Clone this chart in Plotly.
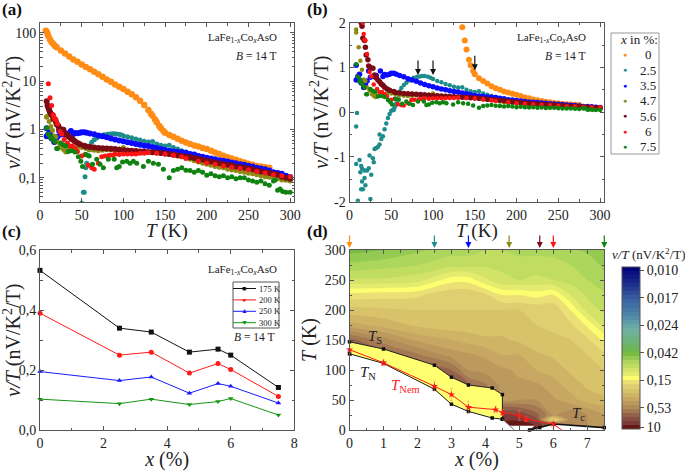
import plotly.graph_objects as go

W, H = 685, 471
SERIF = "Liberation Serif"
INK = "#222222"
AXIS = "#555555"

# ---------- panels (a), (b): v/T against T, one pair of lists per Co content ----------
t_0 = [7,8,9,10,12,14,16,18,20,25,30,35,40,45,50,55,60,65,70,75,80,85,90,95,100,105,110,115,120,125,130,133,135,138,140,143,145,148,150,155,160,165,170,175,180,185,190,195,200,205,210,215,220,225,230,235,240,245,250,255,260,265,270,275]
v_0 = [110,105,95,85,72,63,58,53,50,43,37,32,28,25,22,19.5,17.5,15.5,13.8,12.2,10.8,9.6,8.5,7.6,6.8,6.0,5.3,4.6,3.9,3.2,2.5,2.1,1.9,1.6,1.4,1.17,1.05,0.92,0.85,0.76,0.70,0.64,0.58,0.535,0.50,0.465,0.44,0.41,0.39,0.36,0.33,0.31,0.285,0.265,0.25,0.235,0.22,0.205,0.195,0.185,0.175,0.17,0.165,0.16]

t_25 = [8,9,8,12,14,13,15,18,21,23,18,15,14,16,19,10,25,26,29,28,24,30,32,34,36,36,38,40,42,44,46,48,50,52,53,54,55,56,57,59,60,62,65,68,71,74,77,81,84,87,90,94,97,100,105,110,115,120,125,130,135,140,145,150,155,160,165,170,175,180,185,190,195,200,205,210,215,220,225,230,235,240,250,260,270,280,290,300]
v_25 = [-0.32,-0.02,-1.16,-1.07,-1.2,-1.34,-1.26,-1.3,-1.3,-1.25,-1.47,-1.55,-1.72,-1.72,-1.63,-1.98,-1.94,-1.4,-1.12,-1.03,-0.97,-0.82,-0.8,-0.78,-0.72,-0.5,-0.6,-0.54,-0.38,-0.25,-0.13,-0.04,0.03,0.05,0.05,0.105,0.16,0.2,0.29,0.38,0.46,0.54,0.61,0.66,0.71,0.74,0.77,0.79,0.8,0.81,0.81,0.79,0.77,0.74,0.7,0.67,0.63,0.6,0.57,0.55,0.56,0.5,0.47,0.45,0.47,0.42,0.39,0.36,0.34,0.31,0.29,0.27,0.26,0.25,0.24,0.225,0.21,0.2,0.19,0.18,0.175,0.17,0.165,0.15,0.13,0.12,0.11,0.09]

t_35 = [8,8,10,12,12,14,17,18,19,21,23,25,29,32,37,40,42,45,48,50,53,56,60,65,70,75,80,85,90,95,100,105,110,115,120,125,130,135,140,145,150,155,160,165,170,175,180,185,190,195,200,205,210,215,220,225,230,235,240,245,250,255,260,265,270,275,280,285,290,295,300]
v_35 = [0.72,1.05,0.8,0.85,0.72,0.65,0.55,0.57,0.62,0.7,0.92,0.78,0.8,0.82,0.92,0.8,0.84,0.83,0.85,0.87,0.87,0.85,0.82,0.79,0.75,0.72,0.69,0.65,0.62,0.59,0.57,0.54,0.52,0.5,0.48,0.46,0.45,0.43,0.41,0.39,0.375,0.36,0.35,0.34,0.335,0.327,0.31,0.3,0.28,0.27,0.26,0.25,0.24,0.23,0.225,0.215,0.205,0.2,0.19,0.185,0.177,0.17,0.16,0.155,0.15,0.14,0.13,0.125,0.12,0.11,0.103]

t_47 = [8,8,11,13,15,17,19,21,24,27,29,31,34,37,41,45,50,55,60,65,70,75,80,85,90,95,100,105,110,115,120,125,130,135,140,145,150,155,160,165,170,175,180,185,190,195,200,205,210,215,220,225,230,235,240,245,250,255,260,265,270,275,280,285,290,295,300]
v_47 = [1.85,1.78,1.45,1.15,0.95,0.73,0.7,0.55,0.48,0.4,0.37,0.34,0.37,0.4,0.38,0.42,0.42,0.4,0.38,0.37,0.36,0.37,0.38,0.375,0.37,0.39,0.42,0.37,0.35,0.35,0.35,0.345,0.34,0.335,0.33,0.32,0.31,0.3,0.29,0.28,0.27,0.26,0.24,0.225,0.21,0.2,0.19,0.18,0.17,0.165,0.16,0.15,0.145,0.14,0.135,0.13,0.123,0.12,0.115,0.11,0.105,0.102,0.1,0.095,0.09,0.088,0.085]

t_56 = [8,9,10,11,12,13,14,15,16,18,19,20,22,23,25,28,30,32,34,36,38,40,42,45,48,53,55,60,65,70,75,80,85,90,95,100,105,110,115,120,125,130,135,140,145,150,155,160,165,170,175,180,185,190,195,200,205,210,215,220,225,230,235,240,245,250,255,260,265,270,275,280,285,290,295,300]
v_56 = [3.8,3.1,2.8,2.5,2.25,2.1,2.0,1.92,1.65,1.6,1.45,1.28,1.17,1.03,1.0,0.98,0.83,0.77,0.72,0.68,0.63,0.6,0.56,0.52,0.49,0.46,0.44,0.43,0.42,0.41,0.405,0.4,0.395,0.39,0.38,0.37,0.365,0.36,0.355,0.35,0.345,0.34,0.335,0.33,0.325,0.315,0.31,0.3,0.29,0.28,0.27,0.265,0.255,0.245,0.235,0.222,0.215,0.205,0.2,0.19,0.185,0.18,0.17,0.165,0.16,0.155,0.15,0.14,0.135,0.13,0.125,0.12,0.115,0.105,0.1,0.095]

t_6 = [10,12,14,16,17,18,19,21,24,26,29,33,36,39,42,45,50,54,58,62,65,70,74,78,83,87,90,95,100,105,110,115,120,125,130,140,150,160,170,175,190,200,210,220,230,240,250,260,270,280,290,300]
v_6 = [8.8,4.5,3.1,2.0,1.75,1.62,1.6,1.3,0.9,0.8,0.62,0.52,0.45,0.45,0.4,0.35,0.28,0.3,0.18,0.16,0.15,0.2,0.27,0.28,0.29,0.29,0.31,0.3,0.31,0.31,0.31,0.31,0.32,0.32,0.33,0.32,0.31,0.29,0.27,0.25,0.22,0.202,0.19,0.175,0.165,0.155,0.146,0.135,0.125,0.115,0.11,0.105]

t_75 = [8,10,12,13,14,16,18,20,21,25,28,31,34,38,42,46,49,51,55,59,63,68,72,76,82,89,92,95,99,104,108,112,116,124,130,136,142,148,155,160,165,170,175,180,185,190,195,200,205,210,215,220,225,230,235,240,245,250,255,260,265,270,275,280,282,285,288,291,295,300]
v_75 = [1.07,0.79,0.68,0.72,0.66,0.6,0.55,0.4,0.4,0.52,0.48,0.45,0.35,0.36,0.34,0.27,0.22,0.17,0.3,0.28,0.19,0.24,0.19,0.16,0.24,0.24,0.16,0.17,0.21,0.22,0.2,0.22,0.2,0.17,0.22,0.2,0.19,0.15,0.1,0.14,0.15,0.16,0.142,0.14,0.13,0.14,0.13,0.112,0.12,0.11,0.105,0.11,0.1,0.105,0.095,0.1,0.1,0.09,0.085,0.08,0.085,0.075,0.07,0.085,0.09,0.055,0.058,0.052,0.05,0.05]

series = [
    ("0", t_0, v_0, "#ff8c14", 6.5),
    ("2.5", t_25, v_25, "#1f8c8c", 5),
    ("3.5", t_35, v_35, "#0a0aff", 6),
    ("4.7", t_47, v_47, "#8c8c14", 5),
    ("5.6", t_56, v_56, "#7a0a14", 6),
    ("6", t_6, v_6, "#ff1414", 5),
    ("7.5", t_75, v_75, "#0f820f", 5),
]
arrow_T = [82, 100, 150]
arrow_v = [0.83, 0.83, 0.94]

# ---------- panel (c) ----------
x_pct = [0, 2.5, 3.5, 4.7, 5.6, 6, 7.5]
c_175 = [0.533, 0.34, 0.327, 0.26, 0.27, 0.25, 0.142]
c_200 = [0.39, 0.25, 0.26, 0.19, 0.222, 0.202, 0.112]
c_250 = [0.195, 0.165, 0.177, 0.123, 0.155, 0.146, 0.09]
c_300 = [0.103, 0.088, 0.103, 0.085, 0.095, 0.105, 0.05]
c_series = [
    ("175 K", c_175, "#111111", "square", "■"),
    ("200 K", c_200, "#ff1a1a", "circle", "●"),
    ("250 K", c_250, "#1a1aff", "triangle-up", "▲"),
    ("300 K", c_300, "#149614", "triangle-down", "▼"),
]

# ---------- panel (d): colour-bar position of v/T on a (x, T) grid ----------
grid_x = [0, 1, 2, 3, 3.5, 4, 4.5, 5, 5.5, 6, 6.5, 7, 7.5]
grid_T = [0, 10, 17, 25, 50, 75, 100, 125, 150, 175, 200, 225, 250, 275, 300]
grid_u = [
    [.00,.00,.00,.00,.00,.00,.00,.01,.02,.08,.12,.14,.15],
    [.00,.00,.00,.00,.00,.00,.01,.01,.03,.10,.13,.15,.16],
    [.05,.05,.05,.05,.05,.05,.03,.03,.06,.30,.13,.15,.16],
    [.05,.05,.05,.05,.05,.05,.04,.05,.09,.15,.13,.15,.17],
    [.08,.08,.08,.08,.12,.15,.15,.15,.15,.17,.19,.21,.22],
    [.08,.08,.08,.08,.10,.12,.16,.17,.17,.19,.21,.23,.24],
    [.08,.08,.08,.10,.15,.16,.17,.18,.20,.21,.23,.24,.25],
    [.09,.08,.12,.16,.17,.18,.20,.20,.22,.23,.24,.25,.27],
    [.09,.14,.18,.20,.21,.22,.22,.23,.24,.245,.25,.27,.305],
    [.19,.21,.23,.24,.24,.24,.24,.245,.25,.255,.27,.305,.36],
    [.24,.245,.25,.25,.25,.25,.25,.25,.255,.255,.30,.36,.38],
    [.29,.285,.28,.255,.255,.27,.30,.30,.31,.30,.35,.38,.395],
    [.37,.37,.36,.31,.31,.345,.37,.375,.37,.375,.385,.40,.42],
    [.42,.41,.40,.385,.385,.38,.38,.385,.385,.39,.40,.41,.43],
    [.46,.45,.43,.41,.41,.40,.40,.41,.41,.41,.42,.43,.44],
]
bar_pos = [0.01, 0.13, 0.30, 0.47, 0.64, 0.81, 0.98]
bar_text = ["10", "0,53", "0,15", "0,042", "0,024", "0,017", "0,010"]
bar_colors = [
    [0.00, "#5a0000"], [0.03, "#7a3535"], [0.08, "#8f5a48"], [0.13, "#ae8858"],
    [0.20, "#ccae64"], [0.25, "#dcc86c"], [0.285, "#e8dc76"], [0.31, "#ffff70"], [0.335, "#e6ec70"], [0.36, "#d4e468"],
    [0.42, "#a8d45a"], [0.47, "#6fb83f"], [0.52, "#6cb46a"], [0.62, "#70b0a8"],
    [0.70, "#4f88a8"], [0.80, "#3a60a0"], [0.90, "#1a2a8a"], [1.00, "#00007a"],
]

ts_x = [0, 1, 2.5, 3, 3.5, 4.2, 4.5]
ts_T = [147, 135, 108, 88, 75, 70, 59]
tn_x = [0, 1, 2.5, 3, 3.5, 4.2, 4.5]
tn_T = [127, 111, 68, 43, 31, 20, 18]
tn_end_x = [4.5, 4.85]
tn_end_T = [18, 0]
tc_x = [5.3, 5.6, 6, 7.5]
tc_T = [0, 4, 10, 4]
gap_x = [4.65, 5.45, 5.3, 4.85]
gap_T = [7, 7, 0, 0]
nem_x = [0, 1, 2.5, 3, 3.5, 4.3, 4.5, 5, 5.2, 6]
nem_T = [134, 112, 73, 59, 38, 34, 29, 24, 18, 10]
nem_err = [5, 5, 8, 10, 10, 5, 5, 8, 4, 8]
nem_end_x = [6, 6.25]
nem_end_T = [10, 0]
top_x = [0, 2.5, 3.5, 4.7, 5.6, 6, 7.5]

# ---------- axis ticks ----------
ax_ticks_T = [0, 50, 100, 150, 200, 250, 300]
log_ticks = [0.1, 1, 10, 100]
log_text = ["0,1", "1", "10", "100"]
log_minor = [m * d for d in (0.01, 0.1, 1, 10, 100) for m in range(2, 10)]
lin_ticks = [-2, -1, 0, 1, 2]
lin_text = ["-2", "-1", "0", "1", "2"]
c_ticks = [0, 0.2, 0.4, 0.6]
c_text = ["0,0", "0,2", "0,4", "0,6"]
c_xticks = [0, 2, 4, 6, 8]
d_xticks = [0, 1, 2, 3, 4, 5, 6, 7]
d_yticks = [0, 50, 100, 150, 200, 250, 300]

fig = go.Figure()


def box(l, r, t, b):
    return dict(x=[l / W, r / W], y=[1 - b / H, 1 - t / H])


def axis(domain, rng, title, standoff, **kw):
    return dict(domain=domain, range=rng, showgrid=False, zeroline=False,
                showline=True, linecolor=AXIS, linewidth=1, mirror="allticks",
                ticks="inside", ticklen=4, tickcolor=AXIS, tickwidth=1,
                tickfont=dict(family=SERIF, size=14, color=INK),
                title=dict(text=title, font=dict(family=SERIF, size=20, color=INK),
                           standoff=standoff),
                automargin=False, **kw)


for name, t, v, col, sz in series:
    pos = [(a, b) for a, b in zip(t, v) if b > 0]
    fig.add_trace(go.Scatter(x=[p[0] for p in pos], y=[p[1] for p in pos], mode="markers",
                             marker=dict(size=sz, color=col), name=name, showlegend=False,
                             xaxis="x", yaxis="y"))
for name, t, v, col, sz in series:
    fig.add_trace(go.Scatter(x=t, y=v, mode="markers", marker=dict(size=sz - 0.5, color=col),
                             name=name, showlegend=False, xaxis="x2", yaxis="y2"))
for name, v, col, sym, _ in c_series:
    fig.add_trace(go.Scatter(x=x_pct, y=v, mode="lines+markers", name=name, showlegend=False,
                             line=dict(color=col, width=1), marker=dict(size=5, color=col, symbol=sym),
                             cliponaxis=False, xaxis="x3", yaxis="y3"))

fig.add_trace(go.Contour(
    x=grid_x, y=grid_T, z=grid_u, zmin=0, zmax=1, colorscale=bar_colors, autocontour=False,
    contours=dict(start=0, end=1, size=0.025, coloring="fill"), line=dict(width=0),
    xaxis="x4", yaxis="y4",
    colorbar=dict(x=622 / W, xanchor="left", y=(H - 429) / H, yanchor="bottom", len=162 / H,
                  lenmode="fraction", thickness=18, thicknessmode="pixels", xpad=0, ypad=0,
                  outlinecolor=AXIS, outlinewidth=1, ticks="outside", ticklen=4, tickcolor=AXIS,
                  tickvals=bar_pos, ticktext=bar_text,
                  tickfont=dict(family=SERIF, size=14, color=INK)),
))
# white (no data) regions and the yellow region, bounded by the transition lines
fig.add_trace(go.Scatter(x=tn_x + tn_end_x[1:] + [0], y=tn_T + tn_end_T[1:] + [0], fill="toself",
                         fillcolor="white", mode="none", showlegend=False, xaxis="x4", yaxis="y4"))
fig.add_trace(go.Scatter(x=tc_x + [7.5], y=tc_T + [0], fill="toself", fillcolor="white", mode="none",
                         showlegend=False, xaxis="x4", yaxis="y4"))
fig.add_trace(go.Scatter(x=gap_x, y=gap_T, fill="toself", fillcolor="white", mode="none",
                         showlegend=False, xaxis="x4", yaxis="y4"))
fig.add_trace(go.Scatter(x=ts_x + tn_x[::-1], y=ts_T + tn_T[::-1], fill="toself", fillcolor="#ffff70",
                         mode="none", showlegend=False, xaxis="x4", yaxis="y4"))
dot = dict(size=3.5, color="#111111", symbol="square")
fig.add_trace(go.Scatter(x=ts_x + tn_end_x[:1], y=ts_T + tn_end_T[:1], mode="lines+markers",
                         line=dict(color="#222222", width=1), marker=dot, showlegend=False,
                         cliponaxis=False, xaxis="x4", yaxis="y4"))
fig.add_trace(go.Scatter(x=tn_x, y=tn_T, mode="lines+markers", line=dict(color="#222222", width=1),
                         marker=dot, showlegend=False, cliponaxis=False, xaxis="x4", yaxis="y4"))
fig.add_trace(go.Scatter(x=tn_end_x, y=tn_end_T, mode="lines", line=dict(color="#777777", width=1),
                         showlegend=False, xaxis="x4", yaxis="y4"))
fig.add_trace(go.Scatter(x=tc_x, y=tc_T, mode="lines+markers", line=dict(color="#111111", width=1.6),
                         marker=dot, showlegend=False, cliponaxis=False, xaxis="x4", yaxis="y4"))
fig.add_trace(go.Scatter(x=nem_x, y=nem_T, mode="lines+markers", line=dict(color="#ff1a1a", width=1),
                         marker=dict(size=5.5, color="#ff1a1a", symbol="star"), showlegend=False,
                         error_y=dict(array=nem_err, color="rgba(255,120,120,0.45)", thickness=1, width=1.5),
                         cliponaxis=False, xaxis="x4", yaxis="y4"))
fig.add_trace(go.Scatter(x=nem_end_x, y=nem_end_T, mode="lines", line=dict(color="#ff1a1a", width=1),
                         showlegend=False, xaxis="x4", yaxis="y4"))

v_over_T = "<i>v/T</i> (nV/K<sup>2</sup>/T)"
T_K = "<i>T</i> (K)"
x_title = "<i>x</i> (%)"

notes = []


def note(px, py, text, size=12, color=INK, anchor="left", rot=0):
    notes.append(dict(xref="paper", yref="paper", x=px / W, y=1 - py / H, text=text, showarrow=False,
                      xanchor=anchor, yanchor="middle", textangle=rot,
                      font=dict(family=SERIF, size=size, color=color)))


def chem(px, py):
    note(px, py, "LaFe<sub>1-<i>x</i></sub>Co<sub><i>x</i></sub>AsO", 11, anchor="right")


def field(px, py):
    note(px, py, "<i>B</i> = 14 T", 11.5, anchor="right")


for label, px, py in [("(a)", 0, 10), ("(b)", 305, 10), ("(c)", 0, 231), ("(d)", 305, 231)]:
    note(px, py, "<b>" + label + "</b>", 17, "#111111")

note(167, 231, T_K, 19, anchor="center")
note(477, 231, T_K, 19, anchor="center")

chem(279, 38); field(278, 56)
chem(588, 38); field(587, 56)
chem(279, 270); field(276, 337)

# legend of (b)
note(618, 40, "<i>x</i> in %:", 13)
for i, (name, _, _, col, _) in enumerate(series):
    row = 55 + i * 15.3
    note(625, row, "●", 7, col, anchor="center")
    note(648, row, name, 13, anchor="center")

# legend of (c)
for i, (name, _, col, _, glyph) in enumerate(c_series):
    row = 288.5 + i * 11.4
    note(244, row, glyph, 7, col, anchor="center")
    note(257, row, name, 8.5)

note(610, 254, v_over_T, 13)

d_labels = [(0.75, 155, "<i>T</i><sub>S</sub>", INK), (0.55, 95, "<i>T</i><sub>N</sub>", INK),
            (1.65, 73, "<i>T</i><sub>Nem</sub>", "#ff1a1a"), (6.75, 27, "<i>T</i><sub>c</sub>", INK)]
for x, y, text, col in d_labels:
    notes.append(dict(xref="x4", yref="y4", x=x, y=y, text=text, showarrow=False,
                      font=dict(family=SERIF, size=15, color=col)))

for T, v in zip(arrow_T, arrow_v):
    notes.append(dict(xref="x2", yref="y2", x=T, y=v, text="", showarrow=True, ax=0, ay=-16,
                      arrowcolor="#111111", arrowhead=2, arrowsize=1, arrowwidth=1.2))
for x, (_, _, _, col, _) in zip(top_x, series):
    notes.append(dict(xref="x4", yref="paper", x=x, y=1 - 248 / H, text="", showarrow=True, ax=0, ay=-14,
                      arrowcolor=col, arrowhead=2, arrowsize=1, arrowwidth=1.2))

shapes = [
    dict(type="rect", xref="paper", yref="paper", x0=611 / W, x1=659 / W, y0=1 - 154 / H, y1=1 - 33 / H,
         line=dict(color="#999999", width=1), fillcolor="white"),
    dict(type="rect", xref="paper", yref="paper", x0=233 / W, x1=279 / W, y0=1 - 328 / H, y1=1 - 282 / H,
         line=dict(color="#555555", width=1), fillcolor="white", layer="below"),
]
for i, (_, _, col, _, _) in enumerate(c_series):
    row = 288.5 + i * 11.4
    shapes.append(dict(type="line", xref="paper", yref="paper", x0=233 / W, x1=256 / W,
                       y0=1 - row / H, y1=1 - row / H, line=dict(color=col, width=1)))

d_a = box(40, 294.3, 23, 202)
d_b = box(349.5, 604.3, 22.7, 201.7)
d_c = box(40, 294.3, 250.3, 430)
d_d = box(349.5, 604.3, 250, 430)

fig.update_layout(
    width=W, height=H, autosize=False, margin=dict(l=0, r=0, t=0, b=0),
    paper_bgcolor="white", plot_bgcolor="white", showlegend=False,
    annotations=notes, shapes=shapes,
    xaxis=axis(d_a["x"], [0, 305], "", 0, anchor="y", tickvals=ax_ticks_T,
               minor=dict(ticks="inside", dtick=25, ticklen=2.5, tickcolor=AXIS)),
    yaxis=axis(d_a["y"], [-1.503, 2.2], v_over_T, 6, anchor="x", type="log", tickvals=log_ticks, ticktext=log_text,
               minor=dict(ticks="inside", tickvals=log_minor, ticklen=2.5, tickcolor=AXIS)),
    xaxis2=axis(d_b["x"], [0, 305], "", 0, anchor="y2", tickvals=ax_ticks_T,
                minor=dict(ticks="inside", dtick=25, ticklen=2.5, tickcolor=AXIS)),
    yaxis2=axis(d_b["y"], [-2, 2], v_over_T, 0, anchor="x2", tickvals=lin_ticks, ticktext=lin_text,
                minor=dict(ticks="inside", dtick=0.5, ticklen=2.5, tickcolor=AXIS)),
    xaxis3=axis(d_c["x"], [0, 8], x_title, 8, anchor="y3", tickvals=c_xticks,
                minor=dict(ticks="inside", dtick=1, ticklen=2.5, tickcolor=AXIS)),
    yaxis3=axis(d_c["y"], [0, 0.6], v_over_T, 6, anchor="x3", tickvals=c_ticks, ticktext=c_text,
                minor=dict(ticks="inside", dtick=0.1, ticklen=2.5, tickcolor=AXIS)),
    xaxis4=axis(d_d["x"], [0, 7.5], x_title, 8, anchor="y4", tickvals=d_xticks,
                minor=dict(ticks="inside", dtick=0.5, ticklen=2.5, tickcolor=AXIS)),
    yaxis4=axis(d_d["y"], [0, 300], T_K, 2, anchor="x4", tickvals=d_yticks,
                minor=dict(ticks="inside", dtick=25, ticklen=2.5, tickcolor=AXIS)),
)

fig.write_html("out.html", post_script="document.body.style.margin='0';",
               config={"displayModeBar": False})
